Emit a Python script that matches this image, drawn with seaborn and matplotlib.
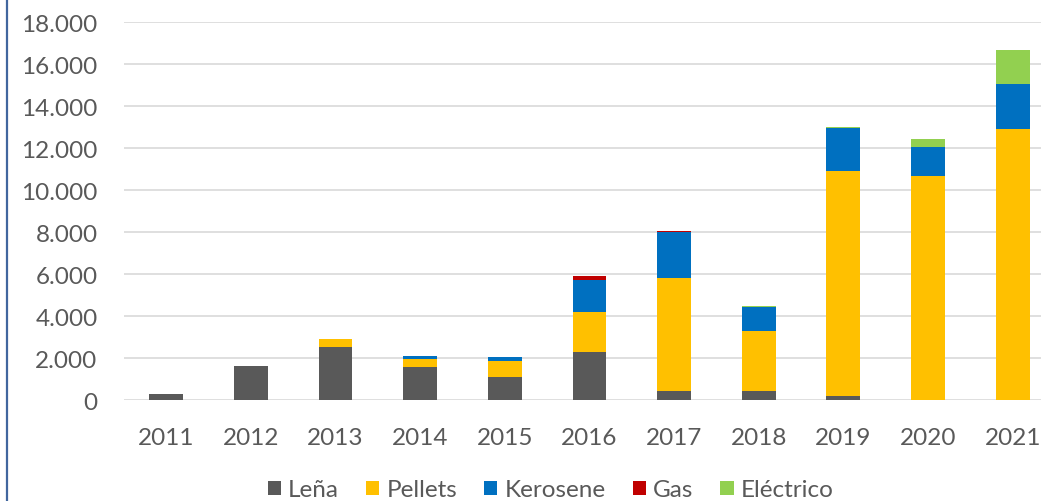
import numpy as np
import pandas as pd
import seaborn as sns
import matplotlib.pyplot as plt
from matplotlib.patches import Patch
from matplotlib.lines import Line2D
from matplotlib.ticker import FuncFormatter

# Data
years = ['2011', '2012', '2013', '2014', '2015', '2016', '2017', '2018', '2019', '2020', '2021']
lena = [300, 1640, 2520, 1590, 1110, 2320, 430, 450, 200, 0, 0]
pellets = [0, 0, 420, 380, 745, 1890, 5390, 2870, 10700, 10700, 12920]
kerosene = [0, 0, 0, 145, 210, 1525, 2190, 1100, 2050, 1380, 2130]
gas = [0, 0, 0, 0, 0, 190, 70, 40, 0, 0, 0]
electrico = [0, 0, 0, 0, 0, 0, 0, 40, 60, 365, 1650]

series = ['Leña', 'Pellets', 'Kerosene', 'Gas', 'Eléctrico']
colors = ['#595959', '#FFC000', '#0070C0', '#C00000', '#92D050']

df = pd.DataFrame({'year': years, 'Leña': lena, 'Pellets': pellets,
                   'Kerosene': kerosene, 'Gas': gas, 'Eléctrico': electrico})
cum = df[series].cumsum(axis=1)

sns.set_style('white')
plt.rcParams['font.family'] = ['Lato', 'DejaVu Sans']

fig = plt.figure(figsize=(10.41, 5.02), dpi=100)
ax = fig.add_axes([0.1191, 0.2006, 0.8943, 0.753])

# stacked bars: draw the running totals from the top layer down
for name, col in reversed(list(zip(series, colors))):
    sns.barplot(x=df['year'], y=cum[name], color=col, width=0.4,
                saturation=1, ax=ax, zorder=3, linewidth=0)

ax.set_ylim(0, 18000)
ax.set_xlim(-0.5, 10.5)
ax.set_yticks(np.arange(0, 18001, 2000))
ax.yaxis.set_major_formatter(FuncFormatter(lambda v, p: f"{int(v):,}".replace(',', '.')))
ax.set_xlabel('')
ax.set_ylabel('')
ax.yaxis.grid(True, color='#d9d9d9', linewidth=1.2, zorder=0)
ax.set_axisbelow(True)
for s in ax.spines.values():
    s.set_visible(False)
ax.tick_params(axis='both', length=0, labelsize=17.5, labelcolor='#595959')
ax.tick_params(axis='x', pad=19)
ax.tick_params(axis='y', pad=19)

handles = [Patch(facecolor=c, edgecolor='none', label=n) for n, c in zip(series, colors)]
fig.legend(handles=handles, loc='center', bbox_to_anchor=(0.529, 0.022), ncol=5,
           frameon=False, fontsize=17.5, labelcolor='#595959', handlelength=0.55,
           handleheight=0.55, handletextpad=0.3, columnspacing=1.1)

# chart frame edge on the left
fig.add_artist(Line2D([0.0072, 0.0072], [0, 1], color='#41669E', linewidth=1.6,
                      transform=fig.transFigure))

fig.savefig('out.png', dpi=100)
